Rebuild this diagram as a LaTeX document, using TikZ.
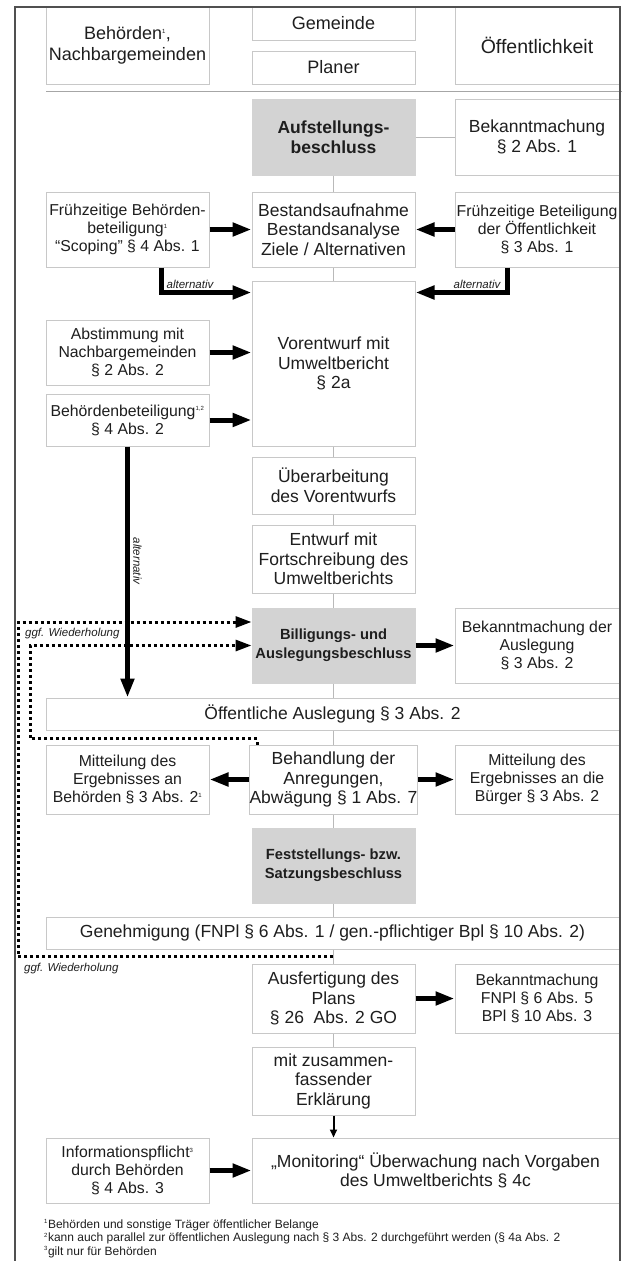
\documentclass[tikz,border=0pt]{standalone}
\usepackage{fontspec}
\setmainfont{Liberation Sans}
\usetikzlibrary{arrows.meta,calc}
\definecolor{boxline}{RGB}{200,200,200}
\definecolor{boxfill}{RGB}{211,211,211}
\definecolor{frameline}{RGB}{80,80,80}
\definecolor{linkline}{RGB}{185,185,185}
\definecolor{txt}{RGB}{30,30,30}
\newcommand{\fn}[1]{\textsuperscript{\fontsize{6}{6}\selectfont #1}}

\begin{document}
\begin{tikzpicture}[x=1pt, y=-1pt,
  every node/.style={text=txt, font=\fontsize{17.5}{19.5}\selectfont},
  box/.style={draw=boxline, line width=1pt, fill=white, align=center, inner sep=0pt},
  sidebox/.style={box, font=\fontsize{15.8}{18}\selectfont},
  headbox/.style={box, font=\fontsize{18}{21}\selectfont},
  mainbox/.style={box, fill=boxfill, draw=boxfill, font=\bfseries\fontsize{17.5}{19.5}\selectfont},
  link/.style={draw=linkline, line width=1pt},
  bigarrow/.style={line width=5pt, -{Triangle[length=19pt,width=13pt]}},
  thinarrow/.style={line width=2pt, -{Triangle[length=8pt,width=7pt]}},
  repeatline/.style={line width=3pt, dash pattern=on 3pt off 3pt, -{Triangle[length=16pt,width=11pt]}},
  note/.style={font=\itshape\fontsize{11.5}{13}\selectfont, inner sep=0pt},
  footnote/.style={font=\fontsize{12}{13}\selectfont, inner sep=0pt, anchor=west}
]
\useasboundingbox (0,0) rectangle (622,1261);

% Kopfzeile
\node[headbox, minimum width=163, minimum height=77] (behoerden) at (127.5,45.5) {Behörden\fn{1},\\Nachbargemeinden};
\node[headbox, minimum width=163, minimum height=33] (gemeinde) at (333.5,23.5) {Gemeinde};
\node[headbox, minimum width=163, minimum height=33] (planer) at (333.5,67.5) {Planer};
\node[headbox, minimum width=164, minimum height=77, font=\fontsize{19.5}{21}\selectfont] (oeffentlichkeit) at (537,45.5) {Öffentlichkeit};
\draw[gray!70, line width=1pt] (46,91) -- (622,91);

% Aufstellung
\node[mainbox, minimum width=163, minimum height=76] (aufstellung) at (333.5,137) {Aufstellungs-\\beschluss};
\node[box, minimum width=164, minimum height=76] (bek1) at (537,137) {Bekanntmachung\\§ 2 Abs. 1};

\node[sidebox, minimum width=163, minimum height=75] (fruehbeh) at (127.5,229.5) {Frühzeitige Behörden-\\beteiligung\fn{1}\\“Scoping” § 4 Abs. 1};
\node[box, minimum width=163, minimum height=75] (bestand) at (333.5,229.5) {Bestandsaufnahme\\Bestandsanalyse\\Ziele / Alternativen};
\node[sidebox, minimum width=164, minimum height=75] (fruehoef) at (537,229.5) {Frühzeitige Beteiligung\\der Öffentlichkeit\\§ 3 Abs. 1};

\node[box, minimum width=163, minimum height=165] (vorentwurf) at (333.5,363.5) {Vorentwurf mit\\Umweltbericht\\§ 2a};
\node[sidebox, minimum width=163, minimum height=65] (abstimmung) at (127.5,352.5) {Abstimmung mit\\Nachbargemeinden\\§ 2 Abs. 2};
\node[sidebox, minimum width=163, minimum height=52] (behbet) at (127.5,420) {Behördenbeteiligung\fn{1,2}\\§ 4 Abs. 2};

\node[box, minimum width=163, minimum height=57] (ueberarb) at (333.5,485.5) {Überarbeitung\\des Vorentwurfs};
\node[box, minimum width=163, minimum height=68] (entwurf) at (333.5,559) {Entwurf mit\\Fortschreibung des\\Umweltberichts};

% Auslegung
\node[mainbox, minimum width=163, minimum height=75, font=\bfseries\fontsize{14.7}{19}\selectfont] (billigung) at (333.5,645.5) {Billigungs- und\\Auslegungsbeschluss};
\node[sidebox, minimum width=164, minimum height=75] (bekausl) at (537,645.5) {Bekanntmachung der\\Auslegung\\§ 3 Abs. 2};
\node[box, minimum width=573, minimum height=32] (auslegung) at (332.5,714) {Öffentliche Auslegung § 3 Abs. 2};

\node[sidebox, minimum width=163, minimum height=69] (mitbeh) at (127.5,779.5) {Mitteilung des\\Ergebnisses an\\Behörden § 3 Abs. 2\fn{1}};
\node[box, minimum width=163, minimum height=69] (abwaegung) at (333.5,779.5) {Behandlung der\\Anregungen,\\Abwägung § 1 Abs. 7};
\node[sidebox, minimum width=164, minimum height=69] (mitbuerg) at (537,779.5) {Mitteilung des\\Ergebnisses an die\\Bürger § 3 Abs. 2};

% Beschluss und Genehmigung
\node[mainbox, minimum width=163, minimum height=75, font=\bfseries\fontsize{14.7}{19}\selectfont] (satzung) at (333.5,865.5) {Feststellungs- bzw.\\Satzungsbeschluss};
\node[box, minimum width=573, minimum height=32] (genehmigung) at (332.5,933) {Genehmigung (FNPl § 6 Abs. 1 / gen.-pflichtiger Bpl § 10 Abs. 2)};

\node[box, minimum width=163, minimum height=69] (ausfert) at (333.5,998.5) {Ausfertigung des\\Plans\\§ 26~ Abs. 2 GO};
\node[sidebox, minimum width=164, minimum height=69] (bekplan) at (537,998.5) {Bekanntmachung\\FNPl § 6 Abs. 5\\BPl § 10 Abs. 3};
\node[box, minimum width=163, minimum height=68] (erklaerung) at (333.5,1081) {mit zusammen-\\fassender\\Erklärung};

\node[box, minimum width=367, minimum height=65] (monitoring) at (435.5,1170.5) {„Monitoring“ Überwachung nach Vorgaben\\des Umweltberichts § 4c};
\node[sidebox, minimum width=163, minimum height=65] (infopflicht) at (127.5,1170.5) {Informationspflicht\fn{3}\\durch Behörden\\§ 4 Abs. 3};

% duenne Verbindungen
\draw[link] (aufstellung) -- (bek1);
\draw[link] (aufstellung) -- (bestand);
\draw[link] (bestand) -- (vorentwurf);
\draw[link] (vorentwurf) -- (ueberarb);
\draw[link] (ueberarb) -- (entwurf);
\draw[link] (entwurf) -- (billigung);
\draw[link] (billigung) -- (billigung |- auslegung.north);
\draw[link] (billigung |- auslegung.south) -- (abwaegung);
\draw[link] (abwaegung) -- (satzung);
\draw[link] (satzung) -- (satzung |- genehmigung.north);
\draw[link] (satzung |- genehmigung.south) -- (ausfert);
\draw[link] (ausfert) -- (erklaerung);

% Pfeile
\draw[bigarrow] (fruehbeh) -- (bestand);
\draw[bigarrow] (fruehoef) -- (bestand);
\draw[bigarrow] ([xshift=33.5]fruehbeh.south) |- ([yshift=-12]vorentwurf.north west);
\draw[bigarrow] ([xshift=-30]fruehoef.south) |- ([yshift=-12]vorentwurf.north east);
\node[note, anchor=south] (alt1) at (190,289) {alternativ};
\node[note, anchor=south] (alt2) at (477,289) {alternativ};
\draw[bigarrow] (abstimmung) -- (abstimmung -| vorentwurf.west);
\draw[bigarrow] (behbet) -- (behbet -| vorentwurf.west);
\draw[bigarrow] (behbet.south) -- (behbet.south |- auslegung.north);
\node[note, rotate=-90, anchor=south] (alt3) at (133,561) {alternativ};
\draw[bigarrow] (billigung) -- (bekausl);
\draw[bigarrow] (abwaegung) -- (mitbeh);
\draw[bigarrow] (abwaegung) -- (mitbuerg);
\draw[bigarrow] (ausfert) -- (bekplan);
\draw[bigarrow] (infopflicht) -- (monitoring);
\draw[thinarrow] (erklaerung) -- (erklaerung.south |- monitoring.north);

% Wiederholung
\coordinate (rep1) at ($(genehmigung.south)!0.5!(ausfert.north)$);
\coordinate (rep2) at ([xshift=8]abwaegung.north west);
\draw[repeatline] (rep1) -| (18,622) -- ([yshift=23.5]billigung.west);
\draw[repeatline] (rep2) -- ++(0,-6) -| (30,645.5) -- (billigung.west);
\node[note, anchor=west] (wdh1) at (25,634) {ggf. Wiederholung};
\node[note, anchor=west] (wdh2) at (24,969) {ggf. Wiederholung};

% Fussnoten
\node[footnote] (fn1) at (44,1225) {\fn{1}Behörden und sonstige Träger öffentlicher Belange};
\node[footnote] (fn2) at (44,1238.5) {\fn{2}kann auch parallel zur öffentlichen Auslegung nach § 3 Abs. 2 durchgeführt werden (§ 4a Abs. 2};
\node[footnote] (fn3) at (44,1252) {\fn{3}gilt nur für Behörden};

% Rahmen
\draw[frameline, line width=2pt] (14.5,1261) -- (14.5,7) -- (619.5,7) -- (619.5,1261);
\end{tikzpicture}
\end{document}
